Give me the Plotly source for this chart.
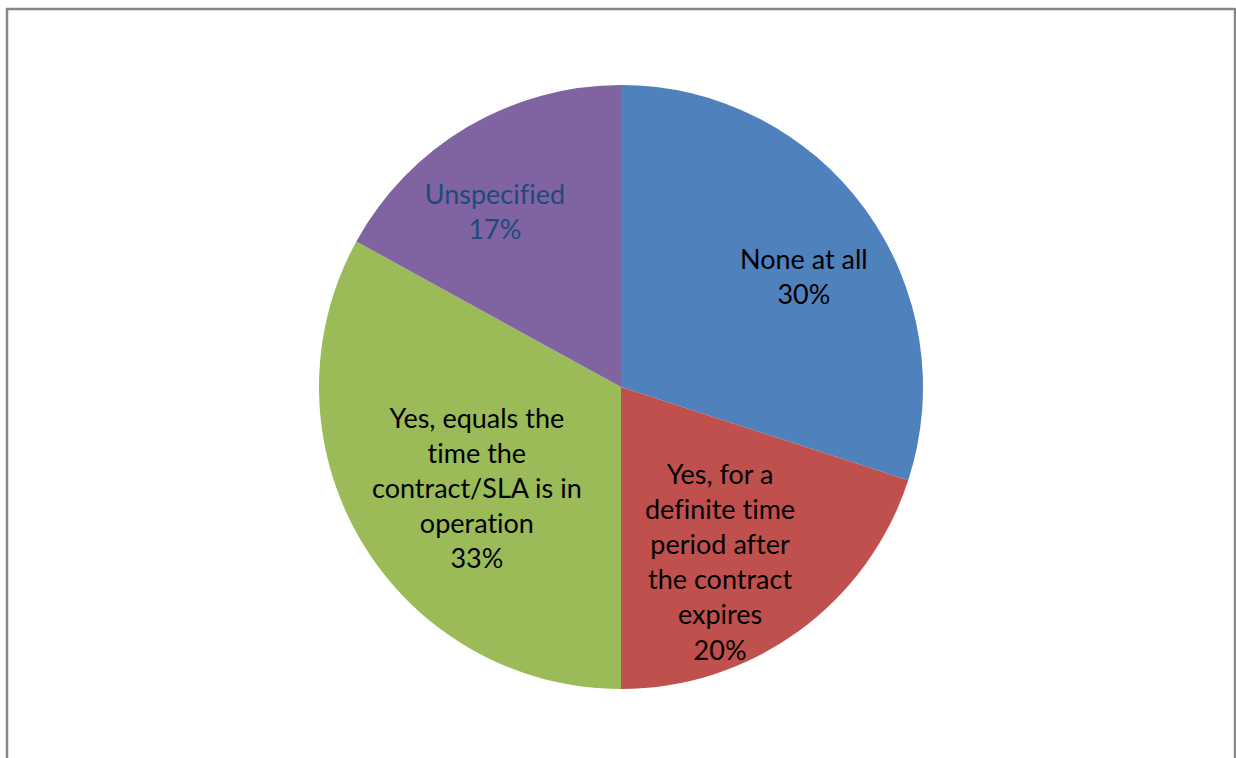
import math
import plotly.graph_objects as go

labels = ["None at all", "Yes, for a definite time period after the contract expires",
          "Yes, equals the time the contract/SLA is in operation", "Unspecified"]
label_text = ["None at all<br>30%",
              "Yes, for a<br>definite time<br>period after<br>the contract<br>expires<br>20%",
              "Yes, equals the<br>time the<br>contract/SLA is in<br>operation<br>33%",
              "Unspecified<br>17%"]
values = [30, 20, 33, 17]
colors = ["#4F81BD", "#C0504D", "#9BBB59", "#8064A2"]
text_colors = ["#000000", "#000000", "#000000", "#1F497D"]
radial_frac = [0.71, 0.66, 0.58, 0.72]
label_shift = [(10, -15), (-18, -13), (7, -11), (-15, -11)]

W, H = 1236, 758
cx, cy, R = 621, 387, 302

fig = go.Figure(go.Pie(
    labels=labels, values=values, sort=False, direction="clockwise", rotation=0,
    marker=dict(colors=colors, line=dict(width=0)),
    textinfo="none", hoverinfo="label+percent", showlegend=False,
    domain=dict(x=[(cx - R) / W, (cx + R) / W], y=[1 - (cy + R) / H, 1 - (cy - R) / H]),
))

total = sum(values)
cum = 0
for i, v in enumerate(values):
    mid = (cum + v / 2) / total * 2 * math.pi
    cum += v
    px = cx + radial_frac[i] * R * math.sin(mid)
    py = cy - radial_frac[i] * R * math.cos(mid)
    fig.add_annotation(x=px / W, y=1 - py / H, xref="paper", yref="paper",
                       xanchor="center", yanchor="middle",
                       xshift=label_shift[i][0], yshift=label_shift[i][1],
                       text=label_text[i], showarrow=False, align="center",
                       font=dict(family="Lato, Carlito, sans-serif", size=27, color=text_colors[i]))

border = "#878787"
fig.add_shape(type="line", xref="paper", yref="paper", x0=7 / W, x1=7 / W, y0=0, y1=1 - 8 / H,
              line=dict(color=border, width=2.5))
fig.add_shape(type="line", xref="paper", yref="paper", x0=6 / W, x1=1235 / W, y0=1 - 9 / H, y1=1 - 9 / H,
              line=dict(color=border, width=2.5))
fig.add_shape(type="line", xref="paper", yref="paper", x0=1235 / W, x1=1235 / W, y0=0, y1=1 - 8 / H,
              line=dict(color=border, width=2.5))

fig.update_layout(width=W, height=H, margin=dict(l=0, r=0, t=0, b=0),
                  paper_bgcolor="white", plot_bgcolor="white")

post = ("document.body.style.margin='0px';"
        "var s=document.createElement('style');"
        "s.textContent='text{font-variant-ligatures:none;font-feature-settings:\"liga\" 0,\"dlig\" 0;}';"
        "document.head.appendChild(s);")
fig.write_html("out.html", post_script=post, config={"displayModeBar": False})
